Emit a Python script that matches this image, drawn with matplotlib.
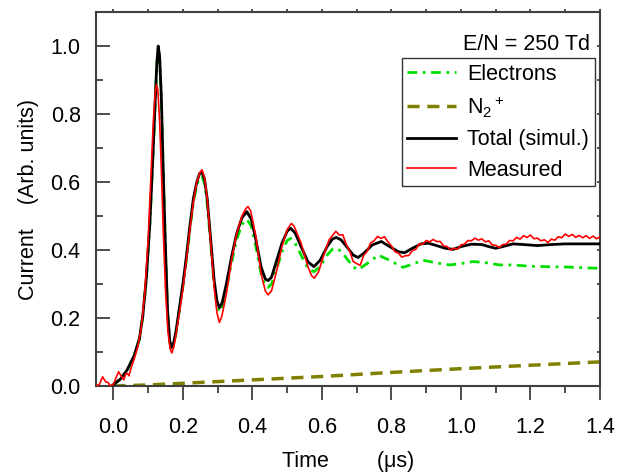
import matplotlib
matplotlib.use("Agg")
import matplotlib.pyplot as plt
from matplotlib.ticker import MultipleLocator, FormatStrFormatter

plt.rcParams['font.family'] = ['Liberation Sans', 'DejaVu Sans']
plt.rcParams['mathtext.fontset'] = 'custom'
plt.rcParams['mathtext.rm'] = 'Liberation Sans'
plt.rcParams['mathtext.it'] = 'Liberation Sans:italic'

# ---- data ----
t_total = [-0.005, 0.02, 0.04, 0.06, 0.075, 0.085, 0.095, 0.105, 0.113, 0.12, 0.125, 0.129,
           0.133, 0.138, 0.143, 0.15, 0.156, 0.162, 0.167, 0.173, 0.18, 0.19, 0.2, 0.21,
           0.22, 0.23, 0.24, 0.248, 0.255, 0.262, 0.27, 0.28, 0.29, 0.298, 0.305, 0.313,
           0.325, 0.34, 0.355, 0.37, 0.384, 0.397, 0.41, 0.425, 0.437, 0.445, 0.455, 0.47,
           0.485, 0.5, 0.51, 0.523, 0.54, 0.56, 0.577, 0.595, 0.615, 0.63, 0.641, 0.655,
           0.675, 0.69, 0.704, 0.72, 0.745, 0.771, 0.795, 0.82, 0.838, 0.86, 0.885, 0.906,
           0.93, 0.955, 0.978, 1.0, 1.03, 1.06, 1.08, 1.1, 1.12, 1.15, 1.18, 1.22, 1.26,
           1.3, 1.35, 1.4]
v_total = [0.0, 0.02, 0.048, 0.09, 0.14, 0.21, 0.32, 0.48, 0.66, 0.83, 0.95, 1.0,
           0.97, 0.85, 0.65, 0.40, 0.22, 0.135, 0.113, 0.125, 0.16, 0.23, 0.30, 0.38,
           0.47, 0.55, 0.60, 0.625, 0.628, 0.61, 0.55, 0.43, 0.31, 0.25, 0.23, 0.245,
           0.30, 0.38, 0.45, 0.495, 0.513, 0.49, 0.43, 0.35, 0.315, 0.31, 0.32, 0.37,
           0.42, 0.455, 0.464, 0.45, 0.41, 0.365, 0.351, 0.37, 0.41, 0.432, 0.437, 0.43,
           0.405, 0.385, 0.378, 0.39, 0.415, 0.425, 0.41, 0.395, 0.392, 0.405, 0.418, 0.42,
           0.413, 0.405, 0.402, 0.41, 0.417, 0.416, 0.41, 0.405, 0.41, 0.418, 0.416, 0.413,
           0.416, 0.418, 0.418, 0.418]

t_elec = [-0.005, 0.02, 0.04, 0.06, 0.075, 0.085, 0.095, 0.105, 0.113, 0.12, 0.125, 0.129,
          0.133, 0.138, 0.143, 0.15, 0.156, 0.162, 0.167, 0.173, 0.18, 0.19, 0.2, 0.21,
          0.22, 0.23, 0.24, 0.248, 0.255, 0.262, 0.27, 0.28, 0.29, 0.298, 0.305, 0.313,
          0.325, 0.34, 0.355, 0.37, 0.384, 0.397, 0.41, 0.425, 0.437, 0.445, 0.455, 0.47,
          0.485, 0.5, 0.51, 0.523, 0.54, 0.56, 0.577, 0.595, 0.615, 0.63, 0.641, 0.655,
          0.675, 0.69, 0.704, 0.73, 0.762, 0.79, 0.833, 0.86, 0.89, 0.93, 0.968, 1.0,
          1.035, 1.07, 1.11, 1.15, 1.2, 1.25, 1.3, 1.35, 1.4]
v_elec = [0.0, 0.02, 0.047, 0.089, 0.138, 0.207, 0.317, 0.476, 0.655, 0.825, 0.945, 0.995,
          0.965, 0.845, 0.645, 0.395, 0.215, 0.13, 0.108, 0.12, 0.155, 0.224, 0.293, 0.372,
          0.46, 0.54, 0.59, 0.613, 0.615, 0.598, 0.537, 0.418, 0.298, 0.237, 0.218, 0.232,
          0.285, 0.363, 0.432, 0.475, 0.49, 0.47, 0.41, 0.33, 0.295, 0.29, 0.3, 0.345,
          0.395, 0.428, 0.434, 0.42, 0.385, 0.345, 0.336, 0.352, 0.385, 0.402, 0.405, 0.397,
          0.37, 0.35, 0.342, 0.36, 0.385, 0.372, 0.349, 0.358, 0.37, 0.362, 0.356, 0.36,
          0.366, 0.363, 0.356, 0.356, 0.352, 0.351, 0.35, 0.348, 0.346]

t_ion = [0.0, 0.1, 0.2, 0.3, 0.4, 0.6, 0.8, 1.0, 1.2, 1.4]
v_ion = [0.0, 0.003, 0.008, 0.013, 0.018, 0.028, 0.04, 0.051, 0.061, 0.071]

t_meas = [-0.05, -0.04, -0.031, -0.022, -0.015, -0.009, 0.0, 0.008, 0.015, 0.022, 0.03,
          0.035, 0.04, 0.045, 0.05, 0.06, 0.07, 0.08, 0.09, 0.1, 0.108, 0.115, 0.12, 0.124,
          0.128, 0.133, 0.138, 0.143, 0.15, 0.157, 0.163, 0.168, 0.174, 0.18, 0.19, 0.2,
          0.21, 0.22, 0.23, 0.24, 0.25, 0.255, 0.262, 0.27, 0.28, 0.29, 0.298, 0.305, 0.312,
          0.325, 0.34, 0.355, 0.37, 0.38, 0.387, 0.395, 0.41, 0.425, 0.437, 0.445, 0.455,
          0.47, 0.485, 0.5, 0.512, 0.52, 0.54, 0.56, 0.57, 0.578, 0.59,
          0.60, 0.61, 0.62, 0.63, 0.64, 0.65, 0.66, 0.67, 0.68, 0.69, 0.70, 0.71, 0.72,
          0.73, 0.74, 0.75, 0.76, 0.77, 0.78, 0.79, 0.80, 0.81, 0.82, 0.83, 0.84, 0.85,
          0.86, 0.87, 0.88, 0.89, 0.90, 0.91, 0.92, 0.93, 0.94, 0.95, 0.96, 0.97, 0.98,
          0.99, 1.00, 1.01, 1.02, 1.03, 1.04, 1.05, 1.06, 1.07, 1.08, 1.09, 1.10, 1.11,
          1.12, 1.13, 1.14, 1.15, 1.16, 1.17, 1.18, 1.19, 1.20, 1.21, 1.22, 1.23, 1.24,
          1.25, 1.26, 1.27, 1.28, 1.29, 1.30, 1.31, 1.32, 1.33, 1.34, 1.35, 1.36, 1.37,
          1.38, 1.39, 1.40]
v_meas = [0.0, 0.005, 0.027, 0.012, 0.01, 0.0, 0.005, 0.025, 0.042, 0.03, 0.018,
          0.035, 0.037, 0.03, 0.05, 0.08, 0.115, 0.17, 0.27, 0.43, 0.62, 0.78, 0.86, 0.887,
          0.87, 0.78, 0.64, 0.47, 0.28, 0.16, 0.11, 0.097, 0.115, 0.15, 0.215, 0.285,
          0.37, 0.46, 0.54, 0.60, 0.63, 0.636, 0.615, 0.55, 0.42, 0.29, 0.215, 0.187, 0.205,
          0.27, 0.37, 0.45, 0.50, 0.52, 0.528, 0.515, 0.44, 0.33, 0.28, 0.268, 0.28,
          0.34, 0.41, 0.46, 0.478, 0.47, 0.42, 0.35, 0.325, 0.317, 0.335,
          0.368, 0.398, 0.429, 0.442, 0.455, 0.444, 0.445, 0.416, 0.397, 0.366, 0.360, 0.355, 0.384,
          0.396, 0.421, 0.427, 0.440, 0.434, 0.439, 0.424, 0.412, 0.395, 0.391, 0.379, 0.383, 0.384,
          0.398, 0.402, 0.418, 0.417, 0.428, 0.424, 0.431, 0.425, 0.425, 0.412, 0.410, 0.400, 0.405,
          0.402, 0.415, 0.417, 0.428, 0.427, 0.435, 0.429, 0.433, 0.424, 0.427, 0.415, 0.414, 0.407,
          0.416, 0.417, 0.428, 0.427, 0.437, 0.432, 0.442, 0.437, 0.444, 0.433, 0.435, 0.427, 0.430,
          0.422, 0.432, 0.429, 0.439, 0.436, 0.447, 0.440, 0.446, 0.437, 0.443, 0.436, 0.442, 0.434,
          0.441, 0.433, 0.439]

labels = ['Electrons', r'$\mathregular{N_2{}^+}$', 'Total (simul.)', 'Measured']
annotation = 'E/N = 250 Td'

# ---- figure ----
fig = plt.figure(figsize=(6.23, 4.76), dpi=100)
ax = fig.add_axes([96/623, 1-386/476, 504/623, 374/476])

ax.plot(t_elec, v_elec, color='#00e000', lw=2.0, linestyle=(0, (3.5, 2, 1, 2)), label=labels[0], zorder=2)
ax.plot(t_ion, v_ion, color='#808000', lw=2.5, linestyle=(0, (3.5, 2.2)), label=labels[1], zorder=2)
ax.plot(t_total, v_total, color='black', lw=2.0, label=labels[2], zorder=3)
ax.plot(t_meas, v_meas, color='#ff0000', lw=1.2, label=labels[3], zorder=4)

ax.set_xlim(-0.05, 1.4)
ax.set_ylim(0, 1.1)

ax.xaxis.set_major_locator(MultipleLocator(0.2))
ax.xaxis.set_minor_locator(MultipleLocator(0.1))
ax.yaxis.set_major_locator(MultipleLocator(0.2))
ax.yaxis.set_minor_locator(MultipleLocator(0.1))
ax.xaxis.set_major_formatter(FormatStrFormatter('%.1f'))
ax.yaxis.set_major_formatter(FormatStrFormatter('%.1f'))

spine_col = '#404040'
for s in ax.spines.values():
    s.set_color(spine_col)
    s.set_linewidth(1.5)

ax.tick_params(axis='x', which='major', direction='out', length=10, width=1.3, color=spine_col,
               labelsize=15.5, pad=12)
ax.tick_params(axis='x', which='minor', direction='out', length=5, width=1.3, color=spine_col)
ax.tick_params(axis='y', which='major', direction='in', length=10, width=1.3, color=spine_col,
               labelsize=15.5, pad=11)
ax.tick_params(axis='y', which='minor', direction='in', length=5, width=1.3, color=spine_col)
# small marks on top and right spines
ax.tick_params(axis='x', which='both', top=True, labeltop=False)
ax.tick_params(axis='y', which='both', right=True, labelright=False)
for tk in ax.xaxis.get_major_ticks() + ax.xaxis.get_minor_ticks():
    tk.tick2line.set_markersize(2)
for tk in ax.yaxis.get_major_ticks() + ax.yaxis.get_minor_ticks():
    tk.tick2line.set_markersize(2)

ax.set_xlabel('Time        (\u03bcs)', fontsize=15.5, labelpad=10)
ax.set_ylabel('Current    (Arb. units)', fontsize=15.5, labelpad=8)

ax.text(0.980, 0.898, annotation, transform=ax.transAxes, ha='right', va='baseline', fontsize=15.5)

leg = ax.legend(loc='upper right', bbox_to_anchor=(0.9895, 0.876), borderaxespad=0,
                fontsize=15.5, frameon=True, fancybox=False, shadow=False,
                handlelength=2.25, handletextpad=0.55, borderpad=0.25, labelspacing=0.45)
leg.get_frame().set_edgecolor('black')
leg.get_frame().set_linewidth(1.0)

fig.savefig('out.png', dpi=100)
